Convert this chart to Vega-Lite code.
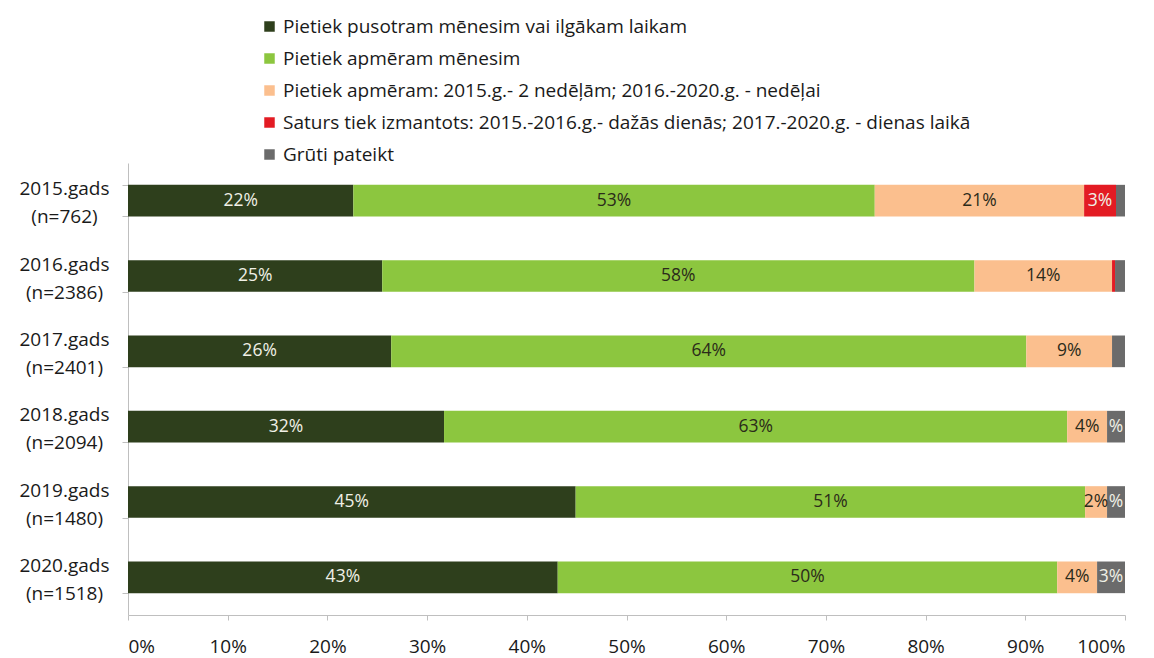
{
  "$schema": "https://vega.github.io/schema/vega-lite/v6.json",
  "width": 997,
  "height": 452,
  "autosize": "none",
  "padding": {"left": 128, "top": 163, "right": 29, "bottom": 43},
  "background": "white",
  "config": {"view": {"stroke": null}, "font": "Open Sans"},
  "data": {"values": [
    {"year": "2015.gads|(n=762)", "cat": "Pietiek pusotram mēnesim vai ilgākam laikam", "k": 1, "v": 22.6, "label": "22%"},
    {"year": "2015.gads|(n=762)", "cat": "Pietiek apmēram mēnesim", "k": 2, "v": 52.3, "label": "53%"},
    {"year": "2015.gads|(n=762)", "cat": "Pietiek apmēram: 2015.g.- 2 nedēļām; 2016.-2020.g. - nedēļai", "k": 3, "v": 21.0, "label": "21%"},
    {"year": "2015.gads|(n=762)", "cat": "Saturs tiek izmantots: 2015.-2016.g.- dažās dienās; 2017.-2020.g. - dienas laikā", "k": 4, "v": 3.2, "label": "3%"},
    {"year": "2015.gads|(n=762)", "cat": "Grūti pateikt", "k": 5, "v": 0.9, "label": ""},
    {"year": "2016.gads|(n=2386)", "cat": "Pietiek pusotram mēnesim vai ilgākam laikam", "k": 1, "v": 25.5, "label": "25%"},
    {"year": "2016.gads|(n=2386)", "cat": "Pietiek apmēram mēnesim", "k": 2, "v": 59.4, "label": "58%"},
    {"year": "2016.gads|(n=2386)", "cat": "Pietiek apmēram: 2015.g.- 2 nedēļām; 2016.-2020.g. - nedēļai", "k": 3, "v": 13.8, "label": "14%"},
    {"year": "2016.gads|(n=2386)", "cat": "Saturs tiek izmantots: 2015.-2016.g.- dažās dienās; 2017.-2020.g. - dienas laikā", "k": 4, "v": 0.3, "label": ""},
    {"year": "2016.gads|(n=2386)", "cat": "Grūti pateikt", "k": 5, "v": 1.0, "label": ""},
    {"year": "2017.gads|(n=2401)", "cat": "Pietiek pusotram mēnesim vai ilgākam laikam", "k": 1, "v": 26.4, "label": "26%"},
    {"year": "2017.gads|(n=2401)", "cat": "Pietiek apmēram mēnesim", "k": 2, "v": 63.7, "label": "64%"},
    {"year": "2017.gads|(n=2401)", "cat": "Pietiek apmēram: 2015.g.- 2 nedēļām; 2016.-2020.g. - nedēļai", "k": 3, "v": 8.6, "label": "9%"},
    {"year": "2017.gads|(n=2401)", "cat": "Saturs tiek izmantots: 2015.-2016.g.- dažās dienās; 2017.-2020.g. - dienas laikā", "k": 4, "v": 0.0, "label": ""},
    {"year": "2017.gads|(n=2401)", "cat": "Grūti pateikt", "k": 5, "v": 1.3, "label": ""},
    {"year": "2018.gads|(n=2094)", "cat": "Pietiek pusotram mēnesim vai ilgākam laikam", "k": 1, "v": 31.7, "label": "32%"},
    {"year": "2018.gads|(n=2094)", "cat": "Pietiek apmēram mēnesim", "k": 2, "v": 62.5, "label": "63%"},
    {"year": "2018.gads|(n=2094)", "cat": "Pietiek apmēram: 2015.g.- 2 nedēļām; 2016.-2020.g. - nedēļai", "k": 3, "v": 4.0, "label": "4%"},
    {"year": "2018.gads|(n=2094)", "cat": "Saturs tiek izmantots: 2015.-2016.g.- dažās dienās; 2017.-2020.g. - dienas laikā", "k": 4, "v": 0.0, "label": ""},
    {"year": "2018.gads|(n=2094)", "cat": "Grūti pateikt", "k": 5, "v": 1.8, "label": "%"},
    {"year": "2019.gads|(n=1480)", "cat": "Pietiek pusotram mēnesim vai ilgākam laikam", "k": 1, "v": 44.9, "label": "45%"},
    {"year": "2019.gads|(n=1480)", "cat": "Pietiek apmēram mēnesim", "k": 2, "v": 51.1, "label": "51%"},
    {"year": "2019.gads|(n=1480)", "cat": "Pietiek apmēram: 2015.g.- 2 nedēļām; 2016.-2020.g. - nedēļai", "k": 3, "v": 2.2, "label": "2%"},
    {"year": "2019.gads|(n=1480)", "cat": "Saturs tiek izmantots: 2015.-2016.g.- dažās dienās; 2017.-2020.g. - dienas laikā", "k": 4, "v": 0.0, "label": ""},
    {"year": "2019.gads|(n=1480)", "cat": "Grūti pateikt", "k": 5, "v": 1.8, "label": "%"},
    {"year": "2020.gads|(n=1518)", "cat": "Pietiek pusotram mēnesim vai ilgākam laikam", "k": 1, "v": 43.1, "label": "43%"},
    {"year": "2020.gads|(n=1518)", "cat": "Pietiek apmēram mēnesim", "k": 2, "v": 50.1, "label": "50%"},
    {"year": "2020.gads|(n=1518)", "cat": "Pietiek apmēram: 2015.g.- 2 nedēļām; 2016.-2020.g. - nedēļai", "k": 3, "v": 4.0, "label": "4%"},
    {"year": "2020.gads|(n=1518)", "cat": "Saturs tiek izmantots: 2015.-2016.g.- dažās dienās; 2017.-2020.g. - dienas laikā", "k": 4, "v": 0.0, "label": ""},
    {"year": "2020.gads|(n=1518)", "cat": "Grūti pateikt", "k": 5, "v": 2.8, "label": "3%"}
  ]},
  "transform": [
    {"stack": "v", "groupby": ["year"], "sort": [{"field": "k"}], "as": ["x0", "x1"]},
    {"calculate": "(datum.x0 + datum.x1) / 2", "as": "xm"}
  ],
  "encoding": {
    "y": {
      "field": "year", "type": "nominal", "sort": null,
      "scale": {"paddingInner": 0.58, "paddingOuter": 0.29},
      "axis": {
        "title": null,
        "labelExpr": "datum.value ? split(datum.value, '|') : ''",
        "labelFontSize": 19, "labelColor": "#1a1a1a", "labelAlign": "center",
        "labelPadding": 58, "labelLineHeight": 28, "labelOffset": -12,
        "domainColor": "#bfbfbf", "tickColor": "#bfbfbf", "tickBand": "extent", "tickSize": 6
      }
    }
  },
  "layer": [
    {
      "mark": {"type": "bar"},
      "encoding": {
        "x": {"field": "x0", "type": "quantitative",
          "scale": {"domain": [0, 100], "nice": false},
          "axis": {"title": null, "values": [0,10,20,30,40,50,60,70,80,90,100],
            "labelExpr": "datum.value + '%'", "labelFontSize": 19, "labelColor": "#1a1a1a",
            "labelPadding": 17, "grid": false, "domainColor": "#bfbfbf", "tickColor": "#bfbfbf", "tickSize": 5}},
        "x2": {"field": "x1"},
        "color": {"field": "cat", "type": "nominal",
          "scale": {
            "domain": ["Pietiek pusotram mēnesim vai ilgākam laikam", "Pietiek apmēram mēnesim", "Pietiek apmēram: 2015.g.- 2 nedēļām; 2016.-2020.g. - nedēļai", "Saturs tiek izmantots: 2015.-2016.g.- dažās dienās; 2017.-2020.g. - dienas laikā", "Grūti pateikt"],
            "range": ["#2e3f1c", "#8cc63f", "#fbbf8e", "#e31b23", "#6b6b6b"]},
          "legend": {
            "title": null, "orient": "none", "legendX": 132, "legendY": -146,
            "symbolType": "square", "symbolSize": 110, "symbolStrokeWidth": 0,
            "labelFontSize": 19, "labelColor": "#1a1a1a", "rowPadding": 12, "labelOffset": 4, "labelLimit": 900
          }
        }
      }
    },
    {
      "mark": {"type": "text", "fontSize": 17.5, "baseline": "middle", "align": "center"},
      "encoding": {
        "x": {"field": "xm", "type": "quantitative"},
        "text": {"field": "label"},
        "color": {
          "condition": {"test": "datum.k === 1 || datum.k === 4 || datum.k === 5", "value": "#f0f0e6"},
          "value": "#2b2b1a"
        }
      }
    }
  ]
}
